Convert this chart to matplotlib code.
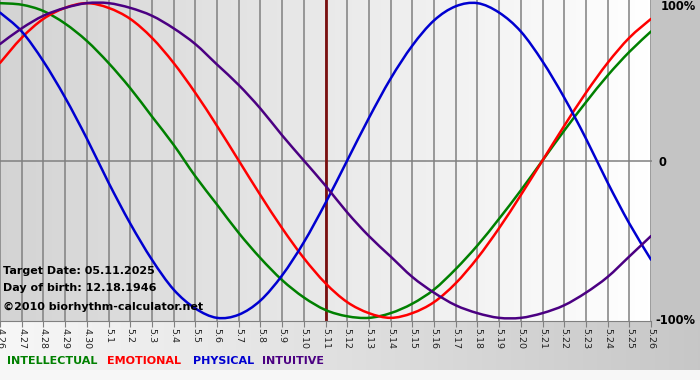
import numpy as np
import matplotlib.pyplot as plt
from matplotlib.path import Path
from matplotlib.patches import PathPatch

# 日期 4.26 ~ 5.26
days = ["4.26", "4.27", "4.28", "4.29", "4.30",
        "5.1", "5.2", "5.3", "5.4", "5.5", "5.6", "5.7", "5.8", "5.9", "5.10",
        "5.11", "5.12", "5.13", "5.14", "5.15", "5.16", "5.17", "5.18", "5.19", "5.20",
        "5.21", "5.22", "5.23", "5.24", "5.25", "5.26"]

intellectual = [1.00, 0.99, 0.95, 0.87, 0.76, 0.62, 0.46, 0.28, 0.10, -0.10,
                -0.28, -0.46, -0.62, -0.76, -0.87, -0.95, -0.99, -1.00, -0.97, -0.91,
                -0.82, -0.69, -0.54, -0.37, -0.19, 0.00, 0.19, 0.37, 0.54, 0.69, 0.82]
emotional = [0.62, 0.78, 0.90, 0.97, 1.00, 0.97, 0.90, 0.78, 0.62, 0.43,
             0.22, 0.00, -0.22, -0.43, -0.62, -0.78, -0.90, -0.97, -1.00, -0.97,
             -0.90, -0.78, -0.62, -0.43, -0.22, 0.00, 0.22, 0.43, 0.62, 0.78, 0.90]
physical = [0.94, 0.82, 0.63, 0.40, 0.14, -0.14, -0.40, -0.63, -0.82, -0.94,
            -1.00, -0.98, -0.89, -0.73, -0.52, -0.27, 0.00, 0.27, 0.52, 0.73,
            0.89, 0.98, 1.00, 0.94, 0.82, 0.63, 0.40, 0.14, -0.14, -0.40, -0.63]
intuitive = [0.74, 0.84, 0.92, 0.97, 1.00, 1.00, 0.97, 0.92, 0.84, 0.74,
             0.61, 0.48, 0.33, 0.16, 0.00, -0.16, -0.33, -0.48, -0.61, -0.74,
             -0.84, -0.92, -0.97, -1.00, -1.00, -0.97, -0.92, -0.84, -0.74, -0.61, -0.48]

target_day = "5.11"
info = ["Target Date: 05.11.2025", "Day of birth: 12.18.1946", "©2010 biorhythm-calculator.net"]
legend_names = ["INTELLECTUAL", "EMOTIONAL", "PHYSICAL", "INTUITIVE"]
colors = ["#008000", "#ff0000", "#0000d0", "#4b0082"]


def smooth_path(xs, ys):
    # 把每天的點用平滑曲線(Catmull-Rom 轉成 Bezier)連起來
    p = np.column_stack([xs, ys]).astype(float)
    p_ext = np.vstack([p[0], p, p[-1]])
    verts = [p[0]]
    codes = [Path.MOVETO]
    for i in range(len(p) - 1):
        p0, p1, p2, p3 = p_ext[i], p_ext[i + 1], p_ext[i + 2], p_ext[i + 3]
        verts += [p1 + (p2 - p0) / 6, p2 - (p3 - p1) / 6, p2]
        codes += [Path.CURVE4] * 3
    return Path(verts, codes)


fig = plt.figure(figsize=(7, 3.8), dpi=100)

# 整張圖的背景 (右邊灰色、下面漸層)
bg = fig.add_axes([0, 0, 1, 1])
bg.axis("off")
img = np.full((380, 700), 0.97)
img[:321, 651:] = 0.77
img[321:370, :] = np.linspace(0.97, 0.78, 700)
bg.imshow(np.dstack([img] * 3), aspect="auto", extent=[0, 700, 380, 0], zorder=0)
bg.set_xlim(0, 700)
bg.set_ylim(380, 0)

ax = fig.add_axes([0, 59 / 380, 651 / 700, 321 / 380])
ax.set_xlim(0, len(days) - 1)
ax.set_ylim(-1.02, 1.02)
ax.patch.set_alpha(0)
grad = np.linspace(0.83, 1.0, 200)
ax.imshow(np.dstack([np.tile(grad, (2, 1))] * 3), aspect="auto",
          extent=[0, len(days) - 1, -1.02, 1.02], zorder=0)

x = np.arange(len(days))
for xi in x:
    ax.axvline(xi, color="#808080", lw=1.1, zorder=1)
ax.hlines(0, 0, len(days) - 0.95, color="#808080", lw=1.1, zorder=1, clip_on=False)

ax.axvline(days.index(target_day), color="#7a1010", lw=2, zorder=2)

for ys, c in zip([intellectual, emotional, physical, intuitive], colors):
    ax.add_patch(PathPatch(smooth_path(x, ys), facecolor="none", edgecolor=c,
                           lw=1.8, zorder=3, capstyle="round", joinstyle="round"))

for s in ["top", "left", "right"]:
    ax.spines[s].set_visible(False)
ax.spines["bottom"].set_color("#808080")
ax.set_yticks([])
ax.set_xticks(x)
ax.set_xticklabels(days, rotation=270, fontsize=6.8, color="#222222")
ax.tick_params(axis="x", length=4, color="#808080", pad=1)

# 右邊的百分比
ax.text(30.45, 0.98, "100%", fontsize=8.3, fontweight="bold", va="center", ha="left")
ax.text(30.35, -0.01, "0", fontsize=8.3, fontweight="bold", va="center", ha="left")
ax.text(30.2, -1.02, "-100%", fontsize=8.3, fontweight="bold", va="center", ha="left", clip_on=False)

# 左下角文字
for i, t in enumerate(info):
    fig.text(3 / 700, 1 - (271 + 17 * i + (2 if i == 2 else 0)) / 380, t,
             fontsize=8, fontweight="bold", va="center", ha="left")

# 圖例
for name, c, px in zip(legend_names, colors, [7, 107, 193, 262]):
    fig.text(px / 700, 1 - 361 / 380, name, color=c, fontsize=8,
             fontweight="bold", va="center", ha="left")

plt.savefig("out.png", dpi=100)
